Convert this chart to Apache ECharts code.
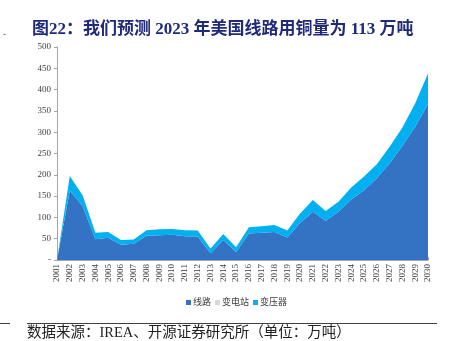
<!DOCTYPE html>
<html>
<head>
<meta charset="utf-8">
<script src="https://cdn.jsdelivr.net/npm/echarts@6/dist/echarts.min.js"></script>
<style>
  html, body { margin: 0; padding: 0; background: #fff; }
  #chart { width: 449px; height: 341px; }
</style>
</head>
<body>
<div id="chart"></div>
<script>
// US copper usage by segment (10k tonnes), 2001-2030
const years = ['2001','2002','2003','2004','2005','2006','2007','2008','2009','2010',
  '2011','2012','2013','2014','2015','2016','2017','2018','2019','2020',
  '2021','2022','2023','2024','2025','2026','2027','2028','2029','2030'];
const lines = [0, 163, 127, 49, 52, 36, 38, 57, 58, 59,
  56, 55, 16, 47, 19, 62, 64, 66, 53, 87,
  113, 92, 113, 142, 164, 192, 227, 268, 313, 366];
const substations = [0, 0, 0, 0, 0, 0, 0, 0, 0, 0,
  0, 0, 0, 0, 0, 0, 0, 0, 0, 0,
  0, 0, 0, 0, 0, 0, 0, 0, 0, 0];
const transformers = [0, 34, 25, 15, 14, 11, 10, 13, 14, 14,
  14, 14, 11, 14, 11, 15, 15, 16, 16, 22,
  28, 23, 24, 28, 32, 33, 39, 43, 55, 72];
const seriesNames = ['线路', '变电站', '变压器'];
const seriesColors = ['#3472C4', '#D9D9D9', '#00B0F0'];
const yTicks = [0, 50, 100, 150, 200, 250, 300, 350, 400, 450, 500];

const chart = echarts.init(document.getElementById('chart'));
const serif = '"Liberation Serif", "Times New Roman", "Noto Sans CJK SC", serif';

function areaSeries(name, data, color) {
  return {
    name: name, type: 'line', stack: 'total', data: data,
    symbol: 'none', smooth: false,
    lineStyle: { width: 0 },
    areaStyle: { color: color, opacity: 1 },
    itemStyle: { color: color }
  };
}

chart.setOption({
  animation: false,
  title: {
    text: '图22：我们预测 2023 年美国线路用铜量为 113 万吨',
    left: 27, top: 16,
    textStyle: { fontFamily: serif, fontSize: 17, fontWeight: 'bold', color: '#1F2A7A' }
  },
  legend: {
    data: seriesNames,
    top: 293, left: 181,
    itemWidth: 5, itemHeight: 5, itemGap: 4,
    icon: 'rect',
    textStyle: { fontFamily: serif, fontSize: 9, color: '#404040', padding: [0, 0, 0, -3] }
  },
  grid: { left: 57, right: 21, top: 47, bottom: 81 },
  xAxis: {
    type: 'category', data: years, boundaryGap: false,
    axisLine: { lineStyle: { color: '#A6A6A6', width: 1 } },
    axisTick: { inside: true, length: 3, alignWithLabel: true, lineStyle: { color: '#A6A6A6' } },
    axisLabel: { rotate: 90, fontFamily: serif, fontSize: 9, color: '#404040', margin: 4, interval: 0 }
  },
  yAxis: {
    type: 'value', min: yTicks[0], max: yTicks[yTicks.length - 1], interval: 50,
    splitLine: { show: false },
    axisLine: { show: true, lineStyle: { color: '#A6A6A6' } },
    axisTick: { show: true, length: 3, lineStyle: { color: '#A6A6A6' } },
    axisLabel: {
      fontFamily: serif, fontSize: 9, color: '#404040', margin: 6,
      formatter: v => (v === 0 ? '-' : String(v))
    }
  },
  series: [
    areaSeries(seriesNames[0], lines, seriesColors[0]),
    areaSeries(seriesNames[1], substations, seriesColors[1]),
    areaSeries(seriesNames[2], transformers, seriesColors[2])
  ],
  graphic: [
    { type: 'text', left: 3, top: 30, style: { text: '-', fontSize: 9, fill: '#404040' } },
    { type: 'line', shape: { x1: 0, y1: 323.5, x2: 10, y2: 323.5 }, style: { stroke: '#404040', lineWidth: 1 } },
    { type: 'line', shape: { x1: 27, y1: 323.5, x2: 437, y2: 323.5 }, style: { stroke: '#404040', lineWidth: 1 } },
    {
      type: 'text', left: 27, top: 326,
      style: { text: '数据来源：IREA、开源证券研究所（单位：万吨）', fontFamily: serif, fontSize: 14.5, fill: '#222' }
    }
  ]
});
</script>
</body>
</html>
